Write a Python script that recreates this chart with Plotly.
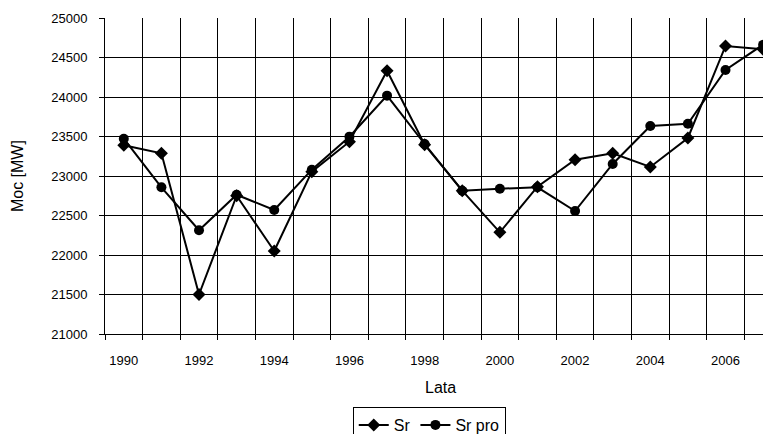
import plotly.graph_objects as go

years = list(range(1990, 2008))
sr = [23390, 23287, 21500, 22750, 22050, 23055, 23434, 24333, 23395,
      22814, 22287, 22865, 23206, 23287, 23114, 23481, 24646, 24604]
sr_pro = [23472, 22857, 22313, 22763, 22570, 23080, 23498, 24017, 23405,
          22814, 22839, 22857, 22557, 23152, 23633, 23662, 24342, 24662]
x_tick_labels = [str(y) for y in range(1990, 2007, 2)]
y_ticks = list(range(21000, 25001, 500))

FONT = "Liberation Sans, Arial, sans-serif"

fig = go.Figure()
fig.add_trace(go.Scatter(
    x=years, y=sr, name="Sr", mode="lines+markers",
    line=dict(color="black", width=2),
    marker=dict(symbol="diamond", size=10, color="black"),
))
fig.add_trace(go.Scatter(
    x=years, y=sr_pro, name="Sr pro", mode="lines+markers",
    line=dict(color="black", width=2),
    marker=dict(symbol="circle", size=10, color="black"),
))

# page body has an 8px margin, so the figure is sized to end at the window edge
fig.update_layout(
    width=763, height=426,
    margin=dict(l=97, r=0, t=10, b=100, autoexpand=False),
    paper_bgcolor="white", plot_bgcolor="white",
    font=dict(family=FONT, size=13, color="black"),
    showlegend=True,
    legend=dict(
        orientation="h", x=0.372, xanchor="left", y=-0.231, yanchor="top",
        bordercolor="black", borderwidth=1, font=dict(size=16),
        bgcolor="white",
    ),
    xaxis=dict(
        type="linear", range=[1989.5, 2007.21],
        tickvals=[int(t) for t in x_tick_labels], ticktext=x_tick_labels,
        showgrid=False, ticks="", ticklabelstandoff=14,
        showline=True, linecolor="black", linewidth=1,
        zeroline=False,
        minor=dict(tick0=1989.5, dtick=1, showgrid=True, gridcolor="black",
                   gridwidth=1, ticks="outside", ticklen=5, tickcolor="black"),
    ),
    yaxis=dict(
        range=[21000, 25000], tickvals=y_ticks, tickformat="d",
        showgrid=True, gridcolor="black", gridwidth=1,
        ticks="outside", ticklen=5, tickcolor="black",
        ticklabelstandoff=9,
        showline=True, linecolor="black", linewidth=1, zeroline=False,
    ),
    annotations=[
        dict(text="Moc [MW]", xref="paper", yref="paper", x=-0.132, y=0.5,
             xanchor="center", yanchor="middle", textangle=-90,
             showarrow=False, font=dict(size=16)),
        dict(text="Lata", xref="paper", yref="paper", x=0.5045, y=-0.168,
             xanchor="center", yanchor="middle",
             showarrow=False, font=dict(size=16)),
    ],
)

fig.write_html("out.html")
